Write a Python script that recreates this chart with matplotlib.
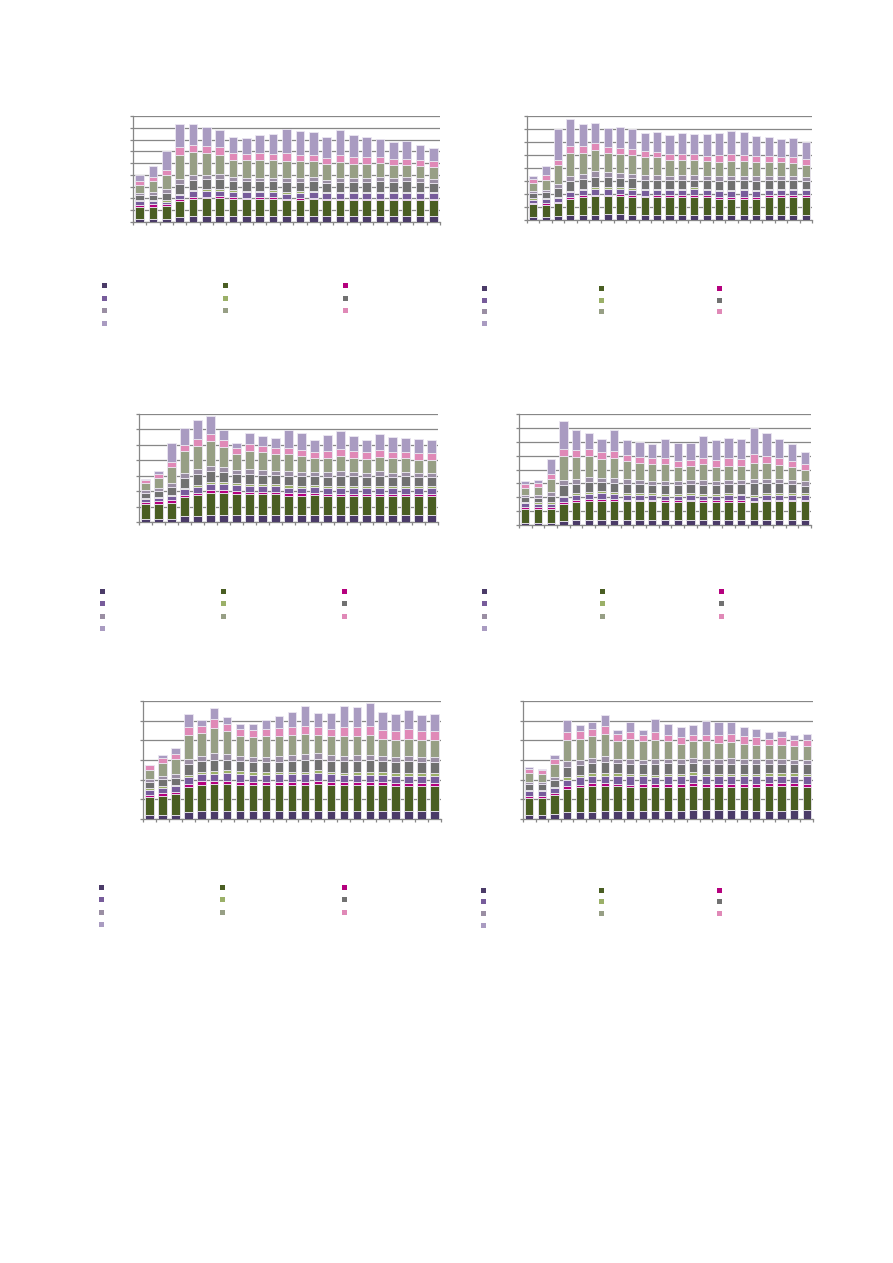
import numpy as np
import matplotlib
matplotlib.use("Agg")
from matplotlib import pyplot as plt
from matplotlib.patches import Rectangle

# 23 categories per panel, no labels shown in the original
categories = list(range(23))

# segment heights per series, one row per panel (panels 1..6, left-right, top-down)
dark_purple = [
    [10, 10, 10, 15, 17, 17, 19, 17, 17, 17, 17, 17, 17, 17, 17, 17, 17, 17, 17, 17, 17, 17, 17],
    [8, 8, 11, 14, 16, 16, 18, 18, 16, 16, 16, 16, 16, 16, 16, 16, 16, 16, 16, 16, 16, 16, 16],
    [8, 10, 10, 17, 17, 20, 20, 20, 20, 20, 20, 20, 20, 20, 20, 20, 20, 20, 20, 20, 20, 20, 20],
    [7, 7, 7, 13, 14, 16, 16, 16, 16, 16, 16, 16, 16, 16, 16, 16, 16, 16, 16, 16, 16, 16, 16],
    [11, 13, 13, 21, 23, 23, 25, 25, 25, 23, 23, 25, 25, 25, 25, 25, 25, 25, 25, 23, 23, 23, 23],
    [11, 11, 14, 22, 22, 22, 24, 24, 24, 24, 24, 24, 24, 26, 26, 26, 26, 26, 24, 24, 24, 26, 26],
]
dark_green = [
    [35, 35, 39, 47, 53, 55, 53, 53, 51, 52, 53, 48, 48, 51, 48, 48, 48, 48, 48, 48, 48, 48, 48],
    [39, 38, 40, 49, 53, 55, 53, 53, 52, 52, 52, 52, 52, 52, 52, 48, 48, 48, 48, 52, 52, 52, 52],
    [45, 45, 48, 58, 63, 66, 66, 64, 64, 64, 64, 58, 58, 60, 58, 58, 58, 58, 58, 58, 58, 58, 58],
    [41, 41, 42, 51, 55, 57, 57, 55, 55, 55, 55, 52, 52, 55, 52, 52, 52, 52, 52, 55, 55, 55, 55],
    [54, 57, 62, 75, 80, 82, 80, 78, 76, 78, 78, 77, 77, 80, 77, 76, 76, 76, 76, 75, 75, 75, 75],
    [51, 51, 58, 69, 74, 77, 75, 75, 72, 72, 72, 72, 72, 73, 70, 70, 70, 70, 72, 76, 76, 74, 71],
]
magenta = [
    [6, 8, 4, 7, 6, 4, 5, 4, 4, 5, 5, 5, 6, 5, 5, 5, 5, 5, 5, 5, 5, 5, 5],
    [4, 4, 4, 6, 6, 5, 5, 6, 6, 4, 6, 7, 7, 8, 7, 6, 6, 6, 6, 6, 7, 7, 7],
    [7, 7, 7, 7, 7, 9, 9, 8, 7, 7, 7, 8, 8, 8, 7, 7, 7, 7, 7, 7, 7, 7, 7],
    [7, 5, 5, 5, 7, 6, 6, 7, 6, 6, 6, 7, 7, 6, 7, 7, 7, 7, 5, 6, 6, 6, 6],
    [8, 7, 7, 8, 10, 10, 10, 9, 9, 9, 9, 9, 9, 10, 10, 9, 9, 9, 9, 9, 9, 9, 9],
    [8, 8, 6, 8, 7, 8, 8, 7, 7, 9, 8, 8, 8, 9, 8, 8, 8, 8, 8, 8, 8, 8, 9],
]
purple = [
    [11, 9, 6, 11, 16, 18, 17, 17, 17, 15, 14, 15, 16, 16, 16, 16, 16, 16, 16, 16, 16, 16, 16],
    [10, 13, 11, 14, 14, 17, 18, 16, 17, 17, 15, 14, 14, 17, 14, 16, 16, 19, 16, 15, 14, 14, 14],
    [8, 11, 12, 16, 18, 19, 19, 18, 18, 18, 16, 17, 17, 17, 18, 18, 18, 18, 18, 18, 18, 18, 18],
    [10, 10, 10, 15, 15, 16, 17, 15, 14, 14, 13, 13, 13, 14, 13, 13, 16, 15, 13, 14, 14, 14, 14],
    [15, 16, 16, 21, 21, 21, 23, 24, 23, 23, 25, 25, 25, 23, 24, 23, 23, 23, 23, 23, 23, 23, 23],
    [13, 13, 14, 19, 23, 23, 23, 24, 25, 23, 22, 26, 24, 25, 26, 26, 26, 26, 26, 22, 22, 22, 24],
]
light_green = [
    [3, 3, 7, 4, 5, 5, 5, 6, 5, 5, 6, 6, 5, 5, 5, 5, 5, 5, 5, 5, 5, 5, 5],
    [5, 3, 3, 5, 5, 5, 6, 5, 5, 5, 5, 5, 5, 5, 5, 5, 5, 5, 5, 5, 5, 5, 5],
    [5, 3, 3, 5, 6, 6, 7, 7, 6, 6, 7, 7, 6, 6, 6, 6, 6, 6, 6, 6, 6, 6, 6],
    [4, 5, 5, 5, 5, 6, 6, 6, 6, 5, 6, 6, 5, 5, 6, 6, 5, 5, 5, 5, 5, 5, 5],
    [5, 6, 5, 7, 8, 9, 9, 8, 7, 7, 5, 6, 6, 9, 6, 6, 7, 7, 7, 7, 7, 7, 7],
    [5, 5, 5, 7, 7, 8, 8, 8, 7, 7, 7, 6, 7, 7, 6, 6, 6, 6, 6, 7, 7, 7, 6],
]
dark_gray = [
    [15, 15, 22, 31, 30, 30, 30, 26, 28, 28, 27, 28, 27, 28, 26, 28, 28, 28, 31, 28, 31, 29, 26],
    [14, 19, 26, 30, 29, 30, 28, 27, 29, 27, 27, 25, 27, 23, 25, 27, 28, 25, 27, 27, 25, 25, 22],
    [14, 18, 25, 29, 32, 33, 30, 26, 30, 27, 26, 28, 28, 26, 26, 28, 28, 26, 28, 26, 28, 26, 26],
    [15, 15, 20, 32, 28, 30, 28, 27, 27, 27, 25, 27, 28, 27, 28, 27, 27, 28, 35, 30, 30, 27, 23],
    [17, 21, 21, 32, 31, 33, 31, 29, 31, 31, 31, 33, 36, 33, 33, 34, 33, 36, 33, 33, 36, 33, 33],
    [17, 17, 21, 31, 30, 29, 34, 29, 31, 29, 31, 31, 29, 29, 30, 30, 30, 30, 30, 29, 29, 27, 28],
]
gray_purple = [
    [7, 10, 10, 15, 14, 12, 16, 12, 10, 10, 10, 13, 13, 12, 10, 13, 13, 13, 13, 13, 12, 12, 12],
    [8, 6, 13, 15, 16, 18, 15, 16, 13, 13, 13, 14, 13, 14, 14, 13, 14, 14, 13, 12, 14, 12, 13],
    [8, 7, 12, 16, 16, 16, 14, 12, 13, 13, 13, 14, 13, 13, 15, 15, 13, 13, 15, 13, 14, 13, 13],
    [7, 8, 10, 15, 15, 13, 13, 15, 14, 13, 13, 13, 12, 13, 14, 13, 13, 13, 14, 14, 13, 13, 13],
    [10, 9, 12, 15, 15, 20, 17, 15, 15, 15, 17, 17, 17, 17, 17, 17, 19, 17, 17, 16, 15, 16, 15],
    [6, 5, 8, 17, 13, 16, 16, 13, 14, 12, 16, 13, 16, 15, 15, 14, 16, 14, 14, 14, 14, 12, 14],
]
gray_green = [
    [25, 32, 43, 72, 68, 66, 57, 52, 53, 55, 53, 52, 50, 48, 47, 47, 42, 42, 42, 38, 38, 35, 35],
    [24, 30, 56, 70, 64, 65, 60, 58, 58, 55, 54, 48, 45, 46, 43, 43, 43, 43, 42, 40, 40, 40, 37],
    [23, 31, 48, 64, 69, 73, 60, 50, 55, 55, 50, 51, 47, 43, 43, 46, 42, 40, 43, 44, 41, 39, 37],
    [22, 23, 40, 72, 65, 64, 56, 62, 55, 52, 50, 50, 43, 43, 47, 42, 43, 43, 46, 46, 42, 38, 34],
    [28, 39, 45, 74, 69, 76, 68, 60, 60, 62, 62, 61, 61, 56, 56, 58, 56, 58, 51, 52, 53, 50, 51],
    [27, 26, 40, 65, 65, 67, 68, 55, 60, 57, 58, 53, 46, 49, 52, 48, 48, 45, 43, 41, 43, 42, 40],
]
pink = [
    [12, 12, 15, 22, 21, 20, 22, 20, 19, 20, 19, 23, 18, 20, 18, 23, 21, 21, 18, 20, 18, 20, 18],
    [10, 13, 17, 21, 21, 20, 18, 19, 17, 19, 18, 18, 20, 18, 17, 22, 23, 20, 20, 20, 16, 18, 18],
    [9, 11, 15, 20, 22, 23, 20, 17, 20, 17, 19, 19, 20, 17, 19, 22, 20, 22, 20, 18, 18, 21, 22],
    [10, 12, 15, 22, 22, 20, 21, 20, 18, 18, 19, 19, 17, 17, 20, 20, 22, 20, 28, 22, 22, 20, 18],
    [14, 14, 15, 23, 21, 25, 22, 22, 20, 22, 23, 23, 24, 23, 22, 28, 28, 29, 27, 25, 29, 27, 27],
    [12, 10, 14, 22, 22, 20, 22, 19, 21, 18, 22, 19, 20, 19, 20, 25, 25, 23, 22, 20, 22, 20, 20],
]
lavender = [
    [18, 35, 57, 71, 65, 58, 53, 48, 48, 55, 61, 73, 74, 70, 63, 75, 65, 60, 54, 49, 52, 45, 39],
    [9, 27, 92, 80, 65, 62, 55, 61, 60, 53, 58, 57, 64, 59, 65, 65, 69, 68, 61, 58, 55, 57, 50],
    [3, 9, 57, 51, 55, 53, 32, 15, 34, 31, 29, 53, 51, 35, 48, 52, 45, 35, 48, 45, 43, 40, 38],
    [9, 10, 45, 83, 60, 50, 41, 63, 47, 45, 41, 56, 55, 52, 66, 60, 63, 60, 80, 70, 58, 50, 35],
    [1, 11, 18, 39, 20, 34, 20, 16, 20, 26, 37, 44, 58, 42, 48, 62, 60, 68, 52, 52, 58, 50, 53],
    [6, 4, 11, 36, 18, 22, 35, 14, 29, 17, 40, 33, 29, 29, 40, 38, 35, 28, 26, 19, 18, 13, 18],
]

series = [dark_purple, dark_green, magenta, purple, light_green,
          dark_gray, gray_purple, gray_green, pink, lavender]
colors = ['#4b3b68', '#4a5e23', '#b5007e', '#775c9b', '#9bb068',
          '#717171', '#9a8ea3', '#979f85', '#e089b7', '#a99bc1']

W, H = 893, 1263
# axes boxes in pixels: left, top, right, bottom
boxes = [
    (133, 116, 440, 222),
    (527, 116, 812, 220),
    (139, 414, 438, 522),
    (519, 414, 811, 525),
    (143, 701, 441, 819),
    (523, 701, 813, 819),
]
grid_count = [9, 8, 7, 8, 6, 6]
grid_step = [35.4, 39.1, 46.3, 41.9, 59.0, 59.0]

legend_cols = [
    (104, 225, 345), (484, 601, 719), (102, 223, 344),
    (484, 602, 721), (101, 222, 344), (483, 601, 719),
]
legend_rows = [
    (285.5, 298.5, 310.5, 323.5), (288, 300, 311.5, 323.5), (591, 603.5, 616, 628.5),
    (591, 603.5, 616, 628.5), (887, 899.5, 912, 924.5), (890, 901.5, 913.5, 925.5),
]

grid_color = '#878787'

fig = plt.figure(figsize=(W / 100, H / 100), dpi=100)
fig.patch.set_facecolor('white')

x = np.arange(len(categories))
for k, (l, t, r, b) in enumerate(boxes):
    ax = fig.add_axes([l / W, 1 - b / H, (r - l) / W, (b - t) / H])
    bottom = np.zeros(len(categories))
    for s, c in zip(series, colors):
        vals = np.array(s[k], dtype=float)
        ax.bar(x, vals, 0.65, bottom=bottom, color=c, edgecolor='#ebe7f1',
               linewidth=0.6, zorder=3)
        bottom += vals
    ymax = grid_count[k] * grid_step[k]
    ax.set_ylim(0, ymax)
    ax.set_xlim(-0.5, len(categories) - 0.5)
    ax.set_yticks(np.arange(grid_count[k] + 1) * grid_step[k])
    ax.set_xticks(np.arange(len(categories) + 1) - 0.5)
    ax.set_yticklabels([])
    ax.set_xticklabels([])
    ax.grid(axis='y', color=grid_color, linewidth=0.9, zorder=0)
    ax.set_axisbelow(True)
    for side in ['top', 'right']:
        ax.spines[side].set_visible(False)
    for side in ['left', 'bottom']:
        ax.spines[side].set_color(grid_color)
        ax.spines[side].set_linewidth(0.9)
    ax.tick_params(axis='both', color=grid_color, length=2.5, width=0.9, direction='out')
    ax.set_facecolor('none')

# legend swatches (labels are empty in the original)
overlay = fig.add_axes([0, 0, 1, 1])
overlay.set_xlim(0, W)
overlay.set_ylim(H, 0)
overlay.axis('off')
for k in range(len(boxes)):
    for i, c in enumerate(colors):
        cx = legend_cols[k][i % 3]
        cy = legend_rows[k][i // 3]
        overlay.add_patch(Rectangle((cx - 2.5, cy - 2.5), 5, 5, color=c, lw=0))

fig.savefig('out.png', dpi=100)
